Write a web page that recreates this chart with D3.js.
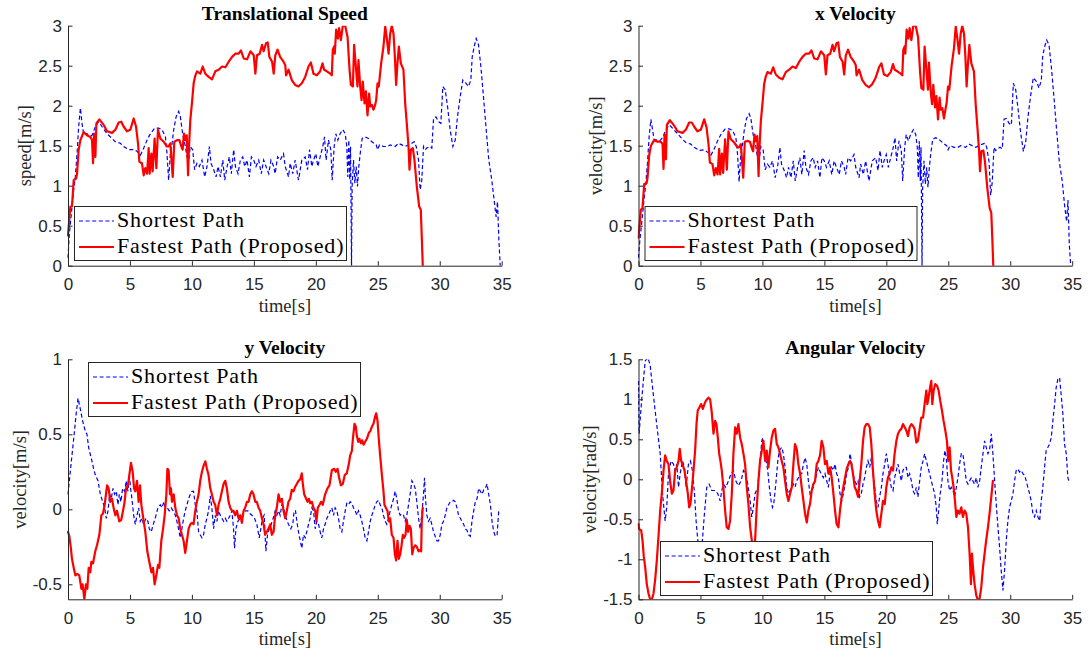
<!DOCTYPE html>
<html>
<head>
<meta charset="utf-8">
<script src="https://cdn.jsdelivr.net/npm/d3@7"></script>
<style>
  body { margin: 0; background: #fff; }
</style>
</head>
<body>
<svg id="fig" width="1089" height="658"></svg>
<script>
// ---- tick values -------------------------------------------------------
const timeTicks = [0, 5, 10, 15, 20, 25, 30, 35];
const speedTicks = [0, 0.5, 1, 1.5, 2, 2.5, 3];
const yVelTicks = [-0.5, 0, 0.5, 1];
const angTicks = [-1.5, -1, -0.5, 0, 0.5, 1, 1.5];
const seriesNames = ["Shortest Path", "Fastest Path (Proposed)"];

// ---- translational speed [t (s), v (m/s)] --------------------------------
const speedShortest = [
  [0,0.1],[0.11,0.4],[0.27,0.65],[0.46,0.95],[0.59,1.11],[0.73,1.40],[0.86,1.74],[1.0,1.97],[1.13,1.78],[1.26,1.65],
  [1.53,1.65],[1.72,1.61],[1.94,1.63],[2.21,1.74],[2.48,1.80],[2.74,1.74],[3.15,1.65],[3.55,1.59],[3.82,1.55],[4.22,1.53],
  [4.49,1.49],[4.9,1.45],[5.3,1.45],[5.57,1.43],[5.84,1.38],[6.11,1.47],[6.38,1.57],[6.65,1.65],[7.0,1.72],[7.32,1.72],
  [7.59,1.70],[7.86,1.61],[7.99,1.40],[8.12,1.07],[8.26,1.40],[8.4,1.53],[8.53,1.70],[8.72,1.86],[8.93,1.93],[9.07,1.86],
  [9.25,1.65],[9.47,1.49],[9.6,1.36],[9.74,1.32],[9.87,1.49],[10.06,1.45],[10.22,1.20],[10.41,1.28],[10.6,1.24],[10.81,1.32],
  [11.03,1.11],[11.22,1.24],[11.41,1.49],[11.54,1.28],[11.76,1.20],[11.95,1.11],[12.11,1.24],[12.3,1.11],[12.49,1.32],[12.65,1.07],
  [12.84,1.24],[13.02,1.36],[13.18,1.15],[13.37,1.45],[13.51,1.24],[13.72,1.15],[13.91,1.32],[14.1,1.36],[14.26,1.24],[14.45,1.32],
  [14.64,1.11],[14.8,1.36],[14.99,1.32],[15.17,1.24],[15.39,1.32],[15.6,1.15],[15.79,1.32],[15.98,1.24],[16.2,1.15],[16.38,1.32],
  [16.6,1.24],[16.72,1.15],[16.91,1.36],[17.12,1.32],[17.39,1.40],[17.53,1.24],[17.8,1.11],[17.93,1.28],[18.14,1.15],[18.33,1.32],
  [18.6,1.07],[18.87,1.32],[19.14,1.36],[19.33,1.20],[19.49,1.45],[19.68,1.24],[19.81,1.32],[20.0,1.40],[20.16,1.24],[20.35,1.36],
  [20.56,1.49],[20.7,1.61],[20.83,1.32],[21.02,1.57],[21.21,1.45],[21.32,1.07],[21.48,1.49],[21.61,1.65],[21.78,1.57],[21.96,1.65],
  [22.18,1.70],[22.37,1.65],[22.5,1.49],[22.58,1.11],[22.66,1.57],[22.74,1.07],[22.8,1.49],[22.88,0],[22.93,0.99],[23.04,1.32],
  [23.15,1.03],[23.26,1.24],[23.36,0.99],[23.47,1.24],[23.58,1.40],[23.74,1.59],[23.98,1.61],[24.25,1.59],[24.52,1.55],[24.87,1.51],
  [24.98,1.45],[25.14,1.51],[25.46,1.49],[25.78,1.49],[26.0,1.51],[26.4,1.49],[26.67,1.53],[26.94,1.51],[27.21,1.49],[27.48,1.51],
  [27.75,1.53],[27.94,1.55],[28.1,1.49],[28.29,1.32],[28.42,0.95],[28.55,1.07],[28.69,1.49],[28.82,1.45],[28.96,1.47],[29.17,1.49],
  [29.36,1.47],[29.5,1.84],[29.69,1.86],[29.9,1.80],[30.09,1.78],[30.25,2.24],[30.44,2.20],[30.63,1.99],[30.84,1.70],[31.06,1.49],
  [31.25,1.57],[31.43,1.86],[31.65,2.11],[31.86,2.32],[32.13,2.28],[32.32,2.24],[32.51,2.32],[32.62,2.61],[32.78,2.74],[32.94,2.84],
  [33.13,2.76],[33.32,2.49],[33.53,2.11],[33.75,1.70],[33.96,1.32],[34.2,1.07],[34.39,0.82],[34.55,0.61],[34.66,0.80],[34.77,0.33],
  [34.88,0]
];
const speedFastest = [
  [0,0.38],[0.19,0.74],[0.32,0.74],[0.46,1.07],[0.65,1.09],[0.73,1.15],[0.86,1.45],[1.0,1.57],[1.26,1.67],[1.53,1.63],
  [1.8,1.61],[1.94,1.57],[2.02,1.28],[2.1,1.65],[2.21,1.36],[2.29,1.78],[2.53,1.83],[2.88,1.76],[3.15,1.68],[3.55,1.66],
  [3.82,1.70],[4.09,1.79],[4.3,1.80],[4.49,1.74],[4.76,1.68],[5.03,1.70],[5.3,1.84],[5.49,1.74],[5.65,1.53],[5.76,1.30],
  [5.97,1.28],[6.11,1.13],[6.24,1.22],[6.38,1.15],[6.51,1.47],[6.59,1.15],[6.73,1.40],[6.83,1.18],[6.99,1.59],[7.13,1.22],
  [7.26,1.70],[7.45,1.59],[7.72,1.55],[7.99,1.49],[8.12,1.49],[8.26,1.53],[8.45,1.11],[8.58,1.55],[8.8,1.57],[8.99,1.57],
  [9.15,1.49],[9.25,1.45],[9.36,1.65],[9.47,1.57],[9.58,1.63],[9.69,1.13],[9.74,1.40],[9.87,1.82],[10.0,2.03],[10.14,2.28],
  [10.28,2.38],[10.41,2.43],[10.68,2.40],[10.87,2.49],[11.08,2.40],[11.35,2.36],[11.62,2.33],[11.89,2.43],[12.16,2.45],[12.43,2.49],
  [12.7,2.48],[12.97,2.55],[13.24,2.61],[13.5,2.65],[13.77,2.65],[13.96,2.69],[14.18,2.59],[14.45,2.58],[14.72,2.68],[14.99,2.63],
  [15.12,2.40],[15.25,2.63],[15.47,2.65],[15.66,2.76],[15.79,2.68],[15.98,2.78],[16.12,2.79],[16.25,2.61],[16.47,2.55],[16.6,2.40],
  [16.73,2.63],[16.91,2.70],[17.12,2.61],[17.39,2.55],[17.53,2.51],[17.6,2.38],[17.8,2.45],[18.06,2.32],[18.33,2.26],[18.6,2.24],
  [18.87,2.28],[19.14,2.36],[19.41,2.49],[19.6,2.54],[19.81,2.40],[20.08,2.38],[20.35,2.43],[20.54,2.53],[20.67,2.45],[20.89,2.43],
  [21.16,2.40],[21.29,2.38],[21.37,2.70],[21.48,2.74],[21.53,2.65],[21.64,2.95],[21.78,2.84],[21.88,2.97],[22.02,2.82],[22.18,3.0],
  [22.37,3.0],[22.56,2.86],[22.72,2.45],[22.83,2.26],[22.99,2.24],[23.09,2.76],[23.23,2.49],[23.36,2.24],[23.44,2.57],[23.58,2.24],
  [23.69,2.07],[23.79,2.30],[23.93,2.03],[24.04,2.18],[24.17,1.88],[24.3,2.15],[24.39,1.99],[24.52,2.01],[24.65,1.95],[24.79,2.01],
  [24.87,2.07],[24.98,2.28],[25.08,2.24],[25.27,2.53],[25.46,2.74],[25.6,2.99],[25.73,2.84],[25.87,2.65],[26.0,2.90],[26.13,3.0],
  [26.27,2.90],[26.38,2.61],[26.48,2.26],[26.59,2.53],[26.7,2.74],[26.86,2.53],[27.07,2.45],[27.21,2.03],[27.34,1.78],[27.48,1.49],
  [27.56,1.20],[27.67,1.45],[27.83,1.47],[27.96,1.32],[28.15,0.99],[28.34,0.74],[28.47,0.70],[28.55,0.36],[28.63,0]
];

// ---- x velocity [t (s), vx (m/s)] ---------------------------------------
const xVelShortest = [
  [0,0.1],[0.11,0.32],[0.27,0.55],[0.46,0.85],[0.59,1.02],[0.73,1.30],[0.86,1.62],[1.0,1.83],[1.13,1.70],[1.26,1.58],
  [1.53,1.57],[1.72,1.56],[1.94,1.60],[2.21,1.70],[2.48,1.76],[2.74,1.72],[3.15,1.65],[3.55,1.58],[3.82,1.54],[4.22,1.52],
  [4.49,1.48],[4.9,1.44],[5.3,1.45],[5.57,1.42],[5.84,1.38],[6.11,1.46],[6.38,1.56],[6.65,1.64],[7.0,1.71],[7.32,1.71],
  [7.59,1.69],[7.86,1.60],[7.99,1.40],[8.12,1.05],[8.26,1.40],[8.4,1.52],[8.53,1.69],[8.72,1.84],[8.93,1.90],[9.07,1.84],
  [9.25,1.64],[9.47,1.49],[9.6,1.36],[9.74,1.32],[9.87,1.49],[10.06,1.45],[10.22,1.20],[10.41,1.27],[10.6,1.23],[10.81,1.31],
  [11.03,1.10],[11.22,1.23],[11.41,1.48],[11.54,1.27],[11.76,1.19],[11.95,1.10],[12.11,1.23],[12.3,1.10],[12.49,1.31],[12.65,1.06],
  [12.84,1.23],[13.02,1.35],[13.18,1.14],[13.37,1.44],[13.51,1.23],[13.72,1.14],[13.91,1.31],[14.1,1.35],[14.26,1.23],[14.45,1.31],
  [14.64,1.10],[14.8,1.35],[14.99,1.31],[15.17,1.23],[15.39,1.31],[15.6,1.14],[15.79,1.31],[15.98,1.23],[16.2,1.14],[16.38,1.31],
  [16.6,1.23],[16.72,1.14],[16.91,1.35],[17.12,1.31],[17.39,1.39],[17.53,1.23],[17.8,1.10],[17.93,1.27],[18.14,1.14],[18.33,1.31],
  [18.6,1.06],[18.87,1.31],[19.14,1.35],[19.33,1.19],[19.49,1.44],[19.68,1.23],[19.81,1.31],[20.0,1.39],[20.16,1.23],[20.35,1.35],
  [20.56,1.48],[20.7,1.60],[20.83,1.31],[21.02,1.56],[21.21,1.44],[21.32,1.06],[21.48,1.48],[21.61,1.64],[21.78,1.56],[21.96,1.64],
  [22.18,1.70],[22.37,1.64],[22.5,1.48],[22.58,1.10],[22.66,1.56],[22.74,1.06],[22.8,1.48],[22.88,0],[22.93,0.97],[23.04,1.31],
  [23.15,1.02],[23.26,1.23],[23.36,0.98],[23.47,1.23],[23.58,1.39],[23.74,1.58],[23.98,1.60],[24.25,1.58],[24.52,1.54],[24.87,1.50],
  [24.98,1.45],[25.14,1.50],[25.46,1.48],[25.78,1.48],[26.0,1.50],[26.4,1.48],[26.67,1.52],[26.94,1.50],[27.21,1.48],[27.48,1.50],
  [27.75,1.52],[27.94,1.53],[28.1,1.48],[28.29,1.30],[28.42,0.88],[28.55,1.05],[28.69,1.48],[28.82,1.44],[28.96,1.46],[29.17,1.48],
  [29.36,1.46],[29.5,1.83],[29.69,1.84],[29.9,1.78],[30.09,1.76],[30.25,2.28],[30.44,2.20],[30.63,1.96],[30.84,1.66],[31.06,1.43],
  [31.25,1.55],[31.43,1.86],[31.65,2.13],[31.86,2.35],[32.13,2.30],[32.32,2.22],[32.51,2.32],[32.62,2.62],[32.78,2.74],[32.94,2.82],
  [33.13,2.76],[33.32,2.48],[33.53,2.10],[33.75,1.68],[33.96,1.30],[34.2,1.05],[34.39,0.75],[34.55,0.55],[34.66,0.82],[34.77,0.25],
  [34.88,0]
];
const xVelFastest = [
  [0,0.35],[0.19,0.70],[0.32,0.72],[0.46,1.02],[0.65,1.03],[0.73,1.10],[0.86,1.38],[1.0,1.50],[1.26,1.57],[1.53,1.55],
  [1.8,1.55],[1.94,1.52],[2.02,1.21],[2.1,1.64],[2.21,1.33],[2.29,1.76],[2.53,1.82],[2.88,1.75],[3.15,1.68],[3.55,1.66],
  [3.82,1.70],[4.09,1.79],[4.3,1.79],[4.49,1.74],[4.76,1.68],[5.03,1.70],[5.3,1.83],[5.49,1.73],[5.65,1.52],[5.76,1.29],
  [5.97,1.27],[6.11,1.13],[6.24,1.22],[6.38,1.14],[6.51,1.46],[6.59,1.14],[6.73,1.40],[6.83,1.16],[6.99,1.58],[7.13,1.20],
  [7.26,1.68],[7.45,1.58],[7.72,1.54],[7.99,1.48],[8.12,1.48],[8.26,1.52],[8.45,1.10],[8.58,1.55],[8.8,1.56],[8.99,1.55],
  [9.15,1.47],[9.25,1.43],[9.36,1.64],[9.47,1.56],[9.58,1.62],[9.69,1.12],[9.74,1.40],[9.87,1.80],[10.0,2.02],[10.14,2.27],
  [10.28,2.37],[10.41,2.42],[10.68,2.40],[10.87,2.48],[11.08,2.39],[11.35,2.35],[11.62,2.33],[11.89,2.42],[12.16,2.45],[12.43,2.49],
  [12.7,2.47],[12.97,2.55],[13.24,2.61],[13.5,2.65],[13.77,2.65],[13.96,2.69],[14.18,2.59],[14.45,2.58],[14.72,2.68],[14.99,2.63],
  [15.12,2.39],[15.25,2.63],[15.47,2.65],[15.66,2.76],[15.79,2.68],[15.98,2.78],[16.12,2.79],[16.25,2.61],[16.47,2.55],[16.6,2.39],
  [16.73,2.63],[16.91,2.70],[17.12,2.61],[17.39,2.55],[17.53,2.51],[17.6,2.38],[17.8,2.45],[18.06,2.32],[18.33,2.26],[18.6,2.23],
  [18.87,2.27],[19.14,2.35],[19.41,2.48],[19.6,2.53],[19.81,2.39],[20.08,2.37],[20.35,2.42],[20.54,2.52],[20.67,2.45],[20.89,2.43],
  [21.16,2.40],[21.29,2.38],[21.37,2.70],[21.48,2.74],[21.53,2.65],[21.64,2.95],[21.78,2.84],[21.88,2.97],[22.02,2.82],[22.18,3.0],
  [22.37,3.0],[22.56,2.86],[22.72,2.43],[22.83,2.22],[22.99,2.20],[23.09,2.74],[23.23,2.46],[23.36,2.20],[23.44,2.54],[23.58,2.18],
  [23.69,2.02],[23.79,2.26],[23.93,1.98],[24.04,2.12],[24.17,1.83],[24.3,2.10],[24.39,1.95],[24.52,1.97],[24.65,1.84],[24.79,1.97],
  [24.87,2.04],[24.98,2.24],[25.08,2.20],[25.27,2.50],[25.46,2.72],[25.6,2.99],[25.73,2.84],[25.87,2.65],[26.0,2.90],[26.13,3.0],
  [26.27,2.90],[26.38,2.61],[26.48,2.24],[26.59,2.53],[26.7,2.76],[26.86,2.53],[27.07,2.43],[27.21,2.02],[27.34,1.75],[27.48,1.45],
  [27.56,1.18],[27.67,1.43],[27.83,1.44],[27.96,1.30],[28.15,0.97],[28.34,0.72],[28.47,0.66],[28.55,0.35],[28.63,0]
];

// ---- y velocity [t (s), vy (m/s)] ---------------------------------------
const yVelShortest = [
  [0,0.10],[0.11,0.19],[0.27,0.32],[0.46,0.47],[0.65,0.63],[0.81,0.74],[0.99,0.67],[1.18,0.59],[1.4,0.52],[1.53,0.50],
  [1.67,0.41],[1.88,0.34],[2.07,0.27],[2.2,0.23],[2.42,0.19],[2.61,0.10],[2.8,0.05],[2.96,0.01],[3.09,-0.06],[3.23,-0.01],
  [3.36,0.10],[3.49,0.07],[3.63,0.14],[3.76,0.10],[3.9,0.12],[4.03,0.03],[4.14,0.10],[4.27,0.05],[4.41,0.14],[4.57,0.12],
  [4.7,0.19],[4.84,0.12],[4.95,0.23],[5.05,0.14],[5.16,0.07],[5.3,-0.04],[5.43,-0.10],[5.57,-0.04],[5.7,0.01],[5.83,-0.08],
  [5.97,-0.06],[6.1,-0.10],[6.29,-0.06],[6.45,-0.08],[6.56,-0.13],[6.72,-0.15],[6.88,-0.10],[7.04,-0.06],[7.26,0.01],[7.45,0.03],
  [7.58,0.01],[7.74,0.05],[7.85,0.01],[8.01,0.01],[8.17,-0.01],[8.33,0.01],[8.49,-0.01],[8.66,-0.04],[8.79,-0.08],[8.92,-0.13],
  [9.06,-0.19],[9.19,-0.13],[9.33,-0.06],[9.46,-0.01],[9.6,0.03],[9.73,0.07],[9.87,0.10],[10.0,0.12],[10.13,0.12],[10.27,0.03],
  [10.4,-0.01],[10.54,-0.15],[10.67,-0.17],[10.81,-0.19],[10.94,-0.17],[11.08,-0.10],[11.21,-0.06],[11.34,-0.01],[11.48,0.09],[11.61,0.01],
  [11.75,-0.13],[11.88,-0.04],[12.02,-0.08],[12.15,-0.01],[12.29,-0.04],[12.42,-0.06],[12.56,-0.08],[12.69,-0.06],[12.82,-0.08],[12.96,-0.06],
  [13.09,-0.04],[13.23,-0.01],[13.36,-0.13],[13.44,-0.26],[13.55,-0.13],[13.71,-0.08],[13.9,-0.06],[14.09,-0.04],[14.3,-0.01],[14.52,-0.01],
  [14.7,-0.03],[14.84,-0.04],[15.05,-0.06],[15.24,-0.10],[15.43,-0.19],[15.56,-0.13],[15.7,-0.06],[15.83,-0.04],[15.97,-0.28],[16.1,-0.17],
  [16.24,-0.13],[16.4,-0.10],[16.56,-0.06],[16.72,-0.01],[16.85,-0.04],[16.99,-0.01],[17.12,-0.04],[17.26,0.03],[17.39,0.01],[17.61,-0.06],
  [17.79,-0.10],[17.98,-0.13],[18.14,-0.10],[18.25,-0.01],[18.36,-0.01],[18.47,-0.08],[18.6,-0.15],[18.74,-0.21],[18.87,-0.26],[19.0,-0.17],
  [19.14,-0.19],[19.27,-0.15],[19.41,-0.10],[19.54,-0.06],[19.68,0.01],[19.81,-0.01],[19.95,-0.13],[20.08,-0.08],[20.22,-0.10],[20.35,-0.15],
  [20.48,-0.19],[20.62,-0.13],[20.75,-0.10],[20.89,-0.06],[21.02,-0.04],[21.16,-0.01],[21.29,0.01],[21.43,-0.04],[21.56,0.01],[21.7,-0.01],
  [21.83,-0.06],[21.96,-0.13],[22.1,-0.15],[22.23,-0.08],[22.37,-0.01],[22.5,0.04],[22.64,0.03],[22.77,0.05],[22.91,0.04],[23.04,0.01],
  [23.18,-0.01],[23.31,-0.04],[23.44,-0.01],[23.58,-0.04],[23.71,-0.08],[23.85,-0.13],[23.98,-0.19],[24.12,-0.21],[24.25,-0.15],[24.39,-0.08],
  [24.52,-0.04],[24.65,-0.01],[24.79,0.03],[24.92,0.05],[25.06,0.06],[25.19,0.03],[25.33,0.01],[25.46,-0.04],[25.6,-0.08],[25.73,-0.10],
  [25.87,-0.06],[26.0,-0.01],[26.13,0.03],[26.27,0.07],[26.4,0.12],[26.54,0.07],[26.67,-0.01],[26.81,-0.04],[26.94,-0.03],[27.08,-0.04],
  [27.21,-0.08],[27.34,-0.04],[27.48,0.03],[27.61,0.10],[27.75,0.19],[27.88,0.17],[28.02,0.14],[28.15,0.05],[28.29,-0.06],[28.42,-0.13],
  [28.55,-0.04],[28.69,0.10],[28.77,0.21],[28.85,0.07],[28.96,-0.04],[29.09,-0.08],[29.23,-0.06],[29.36,-0.10],[29.5,-0.15],[29.63,-0.18],
  [29.77,-0.21],[29.9,-0.21],[30.04,-0.17],[30.17,-0.10],[30.31,-0.08],[30.44,-0.04],[30.58,0.01],[30.71,0.03],[30.85,0.05],[30.98,0.05],
  [31.12,0.06],[31.25,0.05],[31.39,0.01],[31.52,-0.04],[31.66,-0.06],[31.79,-0.08],[31.93,-0.10],[32.06,-0.13],[32.2,-0.14],[32.33,-0.17],
  [32.47,-0.18],[32.6,-0.08],[32.74,-0.01],[32.87,0.05],[33.01,0.07],[33.14,0.14],[33.28,0.12],[33.41,0.10],[33.55,0.13],[33.68,0.14],
  [33.82,0.17],[33.95,0.10],[34.09,0.03],[34.22,-0.08],[34.36,-0.15],[34.49,-0.18],[34.63,-0.17],[34.76,-0.01]
];
const yVelFastest = [
  [0,-0.15],[0.11,-0.18],[0.22,-0.25],[0.32,-0.33],[0.46,-0.39],[0.59,-0.44],[0.73,-0.43],[0.91,-0.44],[1.08,-0.53],[1.18,-0.50],
  [1.32,-0.60],[1.45,-0.50],[1.56,-0.53],[1.67,-0.39],[1.8,-0.42],[1.88,-0.35],[2.02,-0.36],[2.2,-0.28],[2.34,-0.24],[2.53,-0.17],
  [2.69,-0.04],[2.82,-0.03],[2.96,0.03],[3.15,0.16],[3.28,0.14],[3.41,0.05],[3.55,0.07],[3.68,0.01],[3.82,-0.04],[3.95,-0.01],
  [4.14,-0.08],[4.3,-0.07],[4.44,-0.01],[4.57,0.05],[4.68,0.14],[4.84,0.16],[4.95,0.23],[5.08,0.31],[5.22,0.25],[5.33,0.14],
  [5.43,0.12],[5.57,0.19],[5.7,0.05],[5.81,0.16],[5.92,0.03],[6.11,-0.08],[6.24,-0.15],[6.4,-0.28],[6.56,-0.35],[6.73,-0.42],
  [6.86,-0.39],[6.99,-0.50],[7.13,-0.44],[7.26,-0.37],[7.37,-0.39],[7.53,-0.21],[7.67,-0.13],[7.8,-0.04],[7.94,0.10],[8.02,0.27],
  [8.12,0.26],[8.23,0.10],[8.31,0.14],[8.39,0.05],[8.53,0.10],[8.66,0.01],[8.79,-0.04],[8.93,-0.06],[9.06,-0.13],[9.19,-0.17],
  [9.33,-0.21],[9.46,-0.29],[9.6,-0.21],[9.73,-0.13],[9.87,-0.10],[10.0,-0.09],[10.13,-0.10],[10.27,-0.01],[10.4,0.05],[10.54,0.10],
  [10.67,0.19],[10.81,0.25],[10.94,0.29],[11.08,0.32],[11.21,0.27],[11.34,0.23],[11.48,0.14],[11.61,0.10],[11.75,0.05],[11.88,0.03],
  [12.02,-0.04],[12.15,0.03],[12.29,0.07],[12.42,0.12],[12.56,0.17],[12.69,0.19],[12.82,0.14],[12.96,0.05],[13.09,0.01],[13.23,-0.01],
  [13.36,-0.01],[13.49,-0.04],[13.63,-0.01],[13.76,-0.06],[13.9,-0.04],[14.03,-0.09],[14.17,-0.01],[14.3,0.01],[14.44,0.05],[14.57,0.05],
  [14.71,0.10],[14.84,0.12],[14.97,0.10],[15.11,0.05],[15.24,0.05],[15.38,0.01],[15.51,-0.01],[15.65,-0.06],[15.78,-0.10],[15.91,-0.17],
  [16.05,-0.15],[16.18,-0.13],[16.32,-0.10],[16.45,-0.17],[16.59,-0.15],[16.72,-0.04],[16.85,0.01],[16.99,0.10],[17.12,0.05],[17.26,0.07],
  [17.39,-0.01],[17.53,-0.06],[17.66,-0.01],[17.79,0.05],[17.93,0.07],[18.06,0.13],[18.2,0.12],[18.33,0.15],[18.47,0.17],[18.6,0.19],
  [18.74,0.20],[18.87,0.24],[18.95,0.17],[19.06,0.10],[19.22,0.07],[19.33,0.05],[19.44,0.07],[19.54,0.04],[19.68,0.05],[19.81,0.01],
  [19.95,-0.01],[20.05,-0.08],[20.16,0.01],[20.3,0.03],[20.43,0.05],[20.56,0.03],[20.75,0.10],[20.94,0.14],[21.1,0.16],[21.29,0.26],
  [21.48,0.27],[21.61,0.25],[21.75,0.27],[21.88,0.21],[22.02,0.16],[22.18,0.17],[22.34,0.23],[22.5,0.24],[22.66,0.30],[22.77,0.36],
  [22.91,0.39],[22.99,0.47],[23.12,0.57],[23.23,0.55],[23.31,0.49],[23.42,0.45],[23.52,0.47],[23.63,0.44],[23.74,0.46],[23.85,0.43],
  [23.98,0.45],[24.12,0.47],[24.28,0.51],[24.39,0.52],[24.52,0.55],[24.65,0.57],[24.79,0.62],[24.87,0.64],[24.98,0.59],[25.08,0.47],
  [25.19,0.36],[25.33,0.23],[25.46,0.12],[25.54,0.03],[25.65,0.01],[25.78,-0.01],[25.89,-0.08],[26.0,-0.06],[26.13,-0.17],[26.27,-0.19],
  [26.38,-0.30],[26.48,-0.34],[26.59,-0.21],[26.7,-0.33],[26.81,-0.30],[26.92,-0.24],[27.02,-0.17],[27.13,-0.19],[27.24,-0.17],[27.34,-0.07],
  [27.45,-0.15],[27.56,-0.11],[27.67,-0.13],[27.78,-0.30],[27.88,-0.26],[28.02,-0.24],[28.15,-0.25],[28.29,-0.28],[28.42,-0.27],[28.5,-0.28],
  [28.55,-0.08],[28.63,0.01]
];

// ---- angular velocity [t (s), w (rad/s)] --------------------------------
const angShortest = [
  [0,1.23],[0.05,0.57],[0.27,1.02],[0.54,1.48],[0.75,1.52],[0.94,1.43],[1.13,1.15],[1.34,0.86],[1.56,0.57],[1.75,0.32],
  [1.94,-0.18],[2.15,-0.52],[2.28,-0.35],[2.42,0.07],[2.63,0.23],[2.82,0.19],[2.96,0.11],[3.09,0.19],[3.23,-0.10],[3.36,0.07],
  [3.55,0.23],[3.71,0.15],[3.84,-0.10],[4.03,0.19],[4.19,0.23],[4.35,0.11],[4.52,-0.18],[4.65,-0.52],[4.78,-0.76],[4.97,-0.85],
  [5.16,-0.76],[5.32,-0.43],[5.51,-0.10],[5.7,-0.06],[5.91,-0.14],[6.18,-0.14],[6.4,-0.18],[6.59,-0.27],[6.72,-0.14],[6.85,-0.06],
  [7.04,-0.10],[7.26,-0.02],[7.47,0.07],[7.66,0.11],[7.85,-0.02],[8.06,-0.08],[8.28,-0.02],[8.47,0.11],[8.66,0.07],[8.82,-0.06],
  [9.01,-0.27],[9.14,-0.47],[9.27,-0.35],[9.41,-0.18],[9.62,-0.10],[9.81,0.23],[9.95,0.48],[10.03,0.52],[10.16,0.32],[10.3,0.23],
  [10.43,0.11],[10.56,-0.10],[10.7,-0.27],[10.81,-0.35],[10.91,-0.31],[11.08,-0.06],[11.24,0.23],[11.37,0.36],[11.56,0.40],[11.69,0.32],
  [11.83,0.15],[11.96,-0.10],[12.1,-0.18],[12.23,-0.14],[12.37,-0.10],[12.5,-0.06],[12.63,-0.10],[12.77,-0.02],[12.9,0.02],[13.04,0.07],
  [13.17,0.07],[13.31,0.19],[13.44,0.27],[13.58,0.19],[13.71,-0.02],[13.84,-0.18],[13.98,-0.14],[14.11,-0.10],[14.25,-0.02],[14.38,0.07],
  [14.52,0.15],[14.73,0.07],[14.92,0.02],[15.05,0.07],[15.19,-0.02],[15.32,-0.10],[15.46,0.07],[15.59,0.15],[15.73,0.11],[15.86,0.19],
  [15.99,0.07],[16.13,0.02],[16.26,-0.18],[16.4,-0.27],[16.53,-0.18],[16.67,-0.06],[16.8,0.07],[16.94,0.15],[17.07,0.32],[17.18,0.23],
  [17.31,0.07],[17.45,-0.02],[17.58,-0.06],[17.72,-0.02],[17.85,-0.22],[17.98,-0.18],[18.12,-0.06],[18.25,0.02],[18.39,0.15],[18.52,0.23],
  [18.66,0.15],[18.79,0.27],[18.92,0.07],[19.06,-0.10],[19.19,-0.27],[19.33,-0.35],[19.46,-0.22],[19.6,-0.10],[19.73,0.07],[19.87,0.19],
  [20.0,0.32],[20.13,0.19],[20.27,0.02],[20.4,-0.10],[20.54,-0.14],[20.67,0.02],[20.81,0.11],[20.94,0.19],[21.08,0.07],[21.21,-0.02],
  [21.34,0.11],[21.48,0.15],[21.61,0.15],[21.75,0.02],[21.88,0.07],[22.02,-0.02],[22.15,-0.14],[22.28,-0.18],[22.42,-0.10],[22.55,-0.22],
  [22.69,-0.02],[22.82,0.15],[22.96,0.23],[23.09,0.32],[23.23,0.23],[23.36,0.15],[23.49,0.07],[23.63,-0.02],[23.76,-0.10],[23.9,-0.18],
  [24.03,-0.35],[24.11,-0.56],[24.22,-0.39],[24.35,-0.18],[24.49,-0.02],[24.62,0.23],[24.73,0.36],[24.84,0.27],[24.97,-0.02],[25.11,-0.14],
  [25.24,-0.10],[25.38,-0.14],[25.51,-0.22],[25.65,-0.10],[25.78,0.02],[25.91,0.19],[26.05,0.32],[26.18,0.32],[26.32,0.15],[26.45,-0.02],
  [26.59,-0.06],[26.72,-0.02],[26.86,0.02],[26.99,-0.02],[27.12,-0.06],[27.26,0.02],[27.39,-0.10],[27.53,-0.02],[27.66,0.15],[27.8,0.32],
  [27.93,0.48],[28.06,0.40],[28.2,0.32],[28.33,0.36],[28.47,0.57],[28.6,0.32],[28.74,-0.02],[28.87,-0.31],[29.01,-0.60],[29.14,-0.85],
  [29.27,-1.14],[29.41,-1.39],[29.54,-1.14],[29.68,-0.76],[29.81,-0.52],[29.95,-0.35],[30.08,-0.27],[30.22,-0.18],[30.35,-0.02],[30.48,0.11],
  [30.62,0.13],[30.75,0.09],[30.89,0.11],[31.02,0.07],[31.16,0.05],[31.29,-0.02],[31.42,-0.10],[31.56,-0.18],[31.69,-0.27],[31.83,-0.43],
  [31.96,-0.47],[32.1,-0.39],[32.23,-0.47],[32.37,-0.52],[32.5,-0.27],[32.63,-0.10],[32.77,0.15],[32.9,0.36],[33.04,0.40],[33.17,0.44],
  [33.31,0.52],[33.44,0.73],[33.58,0.94],[33.71,1.15],[33.84,1.25],[33.98,1.27],[34.11,1.06],[34.25,0.81],[34.38,0.44],[34.52,0.32],
  [34.65,0.02],[34.73,-0.02]
];
const angFastest = [
  [0,-0.56],[0.05,-0.62],[0.22,-0.64],[0.32,-0.76],[0.43,-0.97],[0.54,-1.10],[0.67,-1.31],[0.81,-1.43],[0.94,-1.50],[1.08,-1.50],
  [1.21,-1.43],[1.34,-1.26],[1.48,-1.01],[1.61,-0.72],[1.75,-0.39],[1.88,-0.18],[2.02,0.11],[2.15,0.30],[2.28,0.23],[2.42,0.19],
  [2.55,-0.02],[2.69,-0.18],[2.82,-0.14],[2.96,0.11],[3.09,0.15],[3.23,0.23],[3.33,0.38],[3.44,0.23],[3.55,0.19],[3.71,0.11],
  [3.84,-0.02],[3.98,-0.18],[4.09,-0.35],[4.19,-0.31],[4.3,-0.14],[4.44,0.11],[4.57,0.36],[4.68,0.69],[4.78,0.86],[4.92,0.90],
  [5.05,0.94],[5.19,0.88],[5.32,0.94],[5.43,0.98],[5.54,1.00],[5.65,1.02],[5.78,1.00],[5.91,0.84],[6.05,0.57],[6.18,0.73],
  [6.29,0.69],[6.4,0.52],[6.51,0.32],[6.61,0.23],[6.72,0.11],[6.85,-0.10],[6.99,-0.39],[7.12,-0.60],[7.26,-0.62],[7.39,-0.52],
  [7.53,-0.18],[7.66,0.32],[7.8,0.65],[7.93,0.57],[8.06,0.69],[8.2,0.52],[8.33,0.44],[8.47,0.32],[8.6,0.19],[8.74,-0.10],
  [8.87,-0.31],[9.01,-0.60],[9.14,-0.76],[9.27,-0.93],[9.41,-0.76],[9.54,-0.35],[9.68,-0.02],[9.81,0.23],[9.95,0.36],[10.08,0.48],
  [10.22,0.23],[10.35,0.36],[10.48,0.15],[10.62,0.36],[10.75,0.52],[10.89,0.61],[11.02,0.63],[11.16,0.44],[11.29,0.40],[11.42,0.32],
  [11.56,0.23],[11.69,0.15],[11.83,-0.02],[11.96,-0.18],[12.1,-0.27],[12.23,-0.18],[12.37,-0.10],[12.5,0.19],[12.63,0.44],[12.77,0.38],
  [12.9,0.19],[13.04,0.07],[13.17,-0.10],[13.31,-0.27],[13.44,-0.43],[13.58,-0.54],[13.71,-0.39],[13.84,-0.31],[13.98,-0.14],[14.11,-0.06],
  [14.25,-0.02],[14.38,0.19],[14.52,0.23],[14.65,0.30],[14.78,0.48],[14.92,0.40],[15.05,0.19],[15.19,0.23],[15.32,0.07],[15.46,0.15],
  [15.59,0.02],[15.73,-0.18],[15.86,-0.39],[15.99,-0.56],[16.13,-0.60],[16.26,-0.39],[16.4,-0.22],[16.53,-0.10],[16.67,0.02],[16.8,0.13],
  [16.94,0.19],[17.07,0.23],[17.18,0.19],[17.31,0.07],[17.45,-0.10],[17.58,-0.14],[17.72,-0.22],[17.85,-0.02],[17.98,0.19],[18.12,0.48],
  [18.25,0.65],[18.39,0.69],[18.52,0.69],[18.66,0.65],[18.79,0.44],[18.92,0.11],[19.06,-0.18],[19.19,-0.39],[19.33,-0.52],[19.46,-0.60],
  [19.6,-0.43],[19.73,-0.27],[19.87,-0.31],[20.0,-0.10],[20.13,0.02],[20.27,0.07],[20.4,0.15],[20.54,0.11],[20.67,0.32],[20.81,0.48],
  [20.94,0.57],[21.08,0.61],[21.21,0.63],[21.34,0.69],[21.48,0.65],[21.61,0.61],[21.75,0.54],[21.88,0.65],[22.02,0.69],[22.15,0.67],
  [22.28,0.63],[22.42,0.46],[22.55,0.48],[22.69,0.63],[22.82,0.77],[22.96,0.77],[23.09,0.94],[23.23,1.11],[23.31,0.94],[23.41,1.02],
  [23.55,1.17],[23.63,1.23],[23.71,0.94],[23.82,1.11],[23.95,1.19],[24.09,1.17],[24.22,1.11],[24.35,0.98],[24.49,0.86],[24.62,0.73],
  [24.76,0.61],[24.89,0.48],[25.0,0.23],[25.11,0.40],[25.22,0.11],[25.32,0.02],[25.43,-0.10],[25.54,-0.27],[25.65,-0.47],[25.78,-0.39],
  [25.91,-0.43],[26.05,-0.35],[26.18,-0.47],[26.32,-0.39],[26.45,-0.43],[26.59,-0.60],[26.72,-0.93],[26.83,-1.31],[26.91,-0.93],[26.99,-1.10],
  [27.12,-1.31],[27.26,-1.45],[27.39,-1.51],[27.53,-1.49],[27.66,-1.35],[27.8,-1.10],[27.93,-0.93],[28.06,-0.76],[28.2,-0.60],[28.33,-0.43],
  [28.47,-0.22],[28.6,-0.02]
];

// ---- subplot layout ----------------------------------------------------
const plotW = 433.7, plotH = 240;
const panels = [
  { title: "Translational Speed", ylabel: "speed[m/s]", domain: [0, 3], ticks: speedTicks,
    shortest: speedShortest, fastest: speedFastest, left: 68, top: 25.7, legend: [74, 206] },
  { title: "x Velocity", ylabel: "velocity[m/s]", domain: [0, 3], ticks: speedTicks,
    shortest: xVelShortest, fastest: xVelFastest, left: 638.5, top: 25.7, legend: [644.5, 206] },
  { title: "y Velocity", ylabel: "velocity[m/s]", domain: [-0.6, 1], ticks: yVelTicks,
    shortest: yVelShortest, fastest: yVelFastest, left: 68, top: 359.3, legend: [88, 362] },
  { title: "Angular Velocity", ylabel: "velocity[rad/s]", domain: [-1.5, 1.5], ticks: angTicks,
    shortest: angShortest, fastest: angFastest, left: 638.5, top: 359.3, legend: [660, 541] }
];

const axisColor = "#262626";
const sansFont = "'Liberation Sans', Arial, Helvetica, sans-serif";
const serifFont = "'Liberation Serif', 'Times New Roman', serif";
const shortStyle = { color: "#0000ff", width: 1.2, dash: "4,2.6" };
const fastStyle = { color: "#ff0000", width: 2.2 };

const svg = d3.select("#fig");

panels.forEach((p, i) => {
  const x = d3.scaleLinear().domain([0, 35]).range([0, plotW]);
  const y = d3.scaleLinear().domain(p.domain).range([plotH, 0]);
  const g = svg.append("g").attr("transform", `translate(${p.left},${p.top})`);

  g.append("clipPath").attr("id", `plot-clip-${i}`)
    .append("rect").attr("x", -1).attr("y", 0).attr("width", plotW + 2).attr("height", plotH);

  const line = d3.line().x(d => x(d[0])).y(d => y(d[1]));
  const lines = g.append("g").attr("clip-path", `url(#plot-clip-${i})`);
  lines.append("path").datum(p.shortest)
    .attr("d", line).attr("fill", "none")
    .attr("stroke", shortStyle.color).attr("stroke-width", shortStyle.width)
    .attr("stroke-dasharray", shortStyle.dash);
  lines.append("path").datum(p.fastest)
    .attr("d", line).attr("fill", "none")
    .attr("stroke", fastStyle.color).attr("stroke-width", fastStyle.width)
    .attr("stroke-linejoin", "round").attr("stroke-linecap", "round");

  // axes with inward ticks, no box
  const xAxis = d3.axisBottom(x).tickValues(timeTicks).tickSize(-4.5).tickSizeOuter(0)
    .tickPadding(12.5).tickFormat(d => String(d));
  const yAxis = d3.axisLeft(y).tickValues(p.ticks).tickSize(-4.5).tickSizeOuter(0)
    .tickPadding(6).tickFormat(d => String(d));

  const gx = g.append("g").attr("transform", `translate(0,${plotH})`).call(xAxis);
  const gy = g.append("g").call(yAxis);
  [gx, gy].forEach(a => {
    a.attr("font-family", sansFont).attr("font-size", 17);
    a.selectAll(".domain, .tick line").attr("stroke", axisColor).attr("stroke-width", 1);
    a.selectAll(".tick text").attr("fill", axisColor);
  });

  // title
  g.append("text")
    .attr("x", plotW / 2).attr("y", -5.5)
    .attr("text-anchor", "middle")
    .attr("font-family", serifFont).attr("font-weight", "bold").attr("font-size", 19.5)
    .attr("fill", "#000")
    .text(p.title);

  // x label
  g.append("text")
    .attr("x", plotW / 2).attr("y", plotH + 46)
    .attr("text-anchor", "middle")
    .attr("font-family", serifFont).attr("font-size", 18.5)
    .attr("fill", axisColor)
    .text("time[s]");

  // y label, placed just left of the widest tick label
  let maxW = 0;
  gy.selectAll(".tick text").each(function () { maxW = Math.max(maxW, this.getComputedTextLength()); });
  const cx = -(maxW + 6 + 12.5);
  g.append("text")
    .attr("transform", `translate(${cx},${plotH / 2}) rotate(-90)`)
    .attr("dy", "0.3em")
    .attr("text-anchor", "middle")
    .attr("font-family", serifFont).attr("font-size", 18.5)
    .attr("fill", axisColor)
    .text(p.ylabel);

  // legend (opaque, drawn over the lines)
  const lg = svg.append("g").attr("transform", `translate(${p.legend[0]},${p.legend[1]})`);
  lg.append("rect")
    .attr("x", 0.5).attr("y", 0.5).attr("width", 272).attr("height", 54)
    .attr("fill", "#fff").attr("stroke", axisColor).attr("stroke-width", 1);
  const entries = [
    { name: seriesNames[0], style: shortStyle },
    { name: seriesNames[1], style: fastStyle }
  ];
  entries.forEach((e, k) => {
    const ly = 15 + k * 26;
    lg.append("line")
      .attr("x1", 5).attr("x2", 40).attr("y1", ly).attr("y2", ly)
      .attr("stroke", e.style.color).attr("stroke-width", e.style.width)
      .attr("stroke-dasharray", e.style.dash || null);
    lg.append("text")
      .attr("x", 43).attr("y", ly + 6)
      .attr("font-family", serifFont).attr("font-size", 22)
      .attr("letter-spacing", "0.85px")
      .attr("fill", "#000")
      .text(e.name);
  });
});
</script>
</body>
</html>
